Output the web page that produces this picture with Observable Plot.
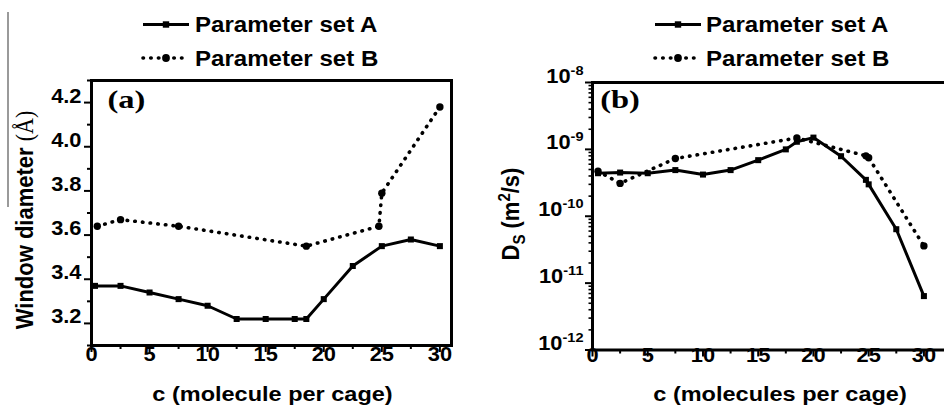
<!DOCTYPE html>
<html><head><meta charset="utf-8">
<script src="https://cdn.jsdelivr.net/npm/d3@7"></script>
<script src="https://cdn.jsdelivr.net/npm/@observablehq/plot@0.6"></script>
<style>
body{margin:0;background:#fff}
#wrap{position:relative;width:944px;height:407px;overflow:hidden;background:#fff}
#wrap svg{position:absolute;top:0}
#gray{position:absolute;left:7px;top:12px;width:1.5px;height:195px;background:#9a9a9a}
</style></head><body><div id="wrap"><div id="gray"></div></div>
<script>
// ---- data ----
const seriesNames = ["Parameter set A", "Parameter set B"];
const panelLabels = ["(a)", "(b)"];
const xTitles = ["c (molecule per cage)", "c (molecules per cage)"];
const xTicks = [0, 5, 10, 15, 20, 25, 30];
const xMinor = [2.5, 7.5, 12.5, 17.5, 22.5, 27.5];
const aYTicks = [3.2, 3.4, 3.6, 3.8, 4.0, 4.2];
const aYMinor = [3.1, 3.3, 3.5, 3.7, 3.9, 4.1, 4.3];
const bYTicks = [1e-12, 1e-11, 1e-10, 1e-9, 1e-8];

// panel (a): window diameter
const aA_x = [0.3, 2.5, 5, 7.5, 10, 12.5, 15, 17.5, 18.5, 20, 22.5, 25, 27.5, 30];
const aA_y = [3.37, 3.37, 3.34, 3.31, 3.28, 3.22, 3.22, 3.22, 3.22, 3.31, 3.46, 3.55, 3.58, 3.55];
const aB_x = [0.5, 2.5, 7.5, 18.5, 24.75, 25, 30];
const aB_y = [3.64, 3.67, 3.64, 3.55, 3.64, 3.79, 4.18];

// panel (b): self-diffusivity
const bA_x = [0.5, 2.5, 5, 7.5, 10, 12.5, 15, 17.5, 18.5, 20, 22.5, 24.75, 25, 27.5, 30];
const bA_y = [4.4e-10, 4.5e-10, 4.4e-10, 4.9e-10, 4.2e-10, 4.9e-10, 6.9e-10, 1.0e-9, 1.3e-9, 1.5e-9, 7.9e-10, 3.5e-10, 3.0e-10, 6.4e-11, 6.4e-12];
const bB_x = [0.5, 2.5, 7.5, 18.5, 24.75, 25, 30];
const bB_y = [4.7e-10, 3.1e-10, 7.3e-10, 1.48e-9, 8.0e-10, 7.5e-10, 3.6e-11];

// ---- helpers ----
const zip = (xs, ys) => xs.map((x, i) => ({x, y: ys[i]}));
const bYMinor = [];
for (let e = -12; e < -8; e++) for (let k = 2; k <= 9; k++) bYMinor.push(k * Math.pow(10, e));

const SX = 1.12;
const FONT = "'Liberation Sans', Arial, sans-serif";
const SERIF = "'Liberation Serif', 'Times New Roman', serif";
const baseStyle = {fontFamily: FONT, fontWeight: "bold", fontSize: "19.5px", color: "#000", background: "transparent", overflow: "visible"};

function seriesMarks(A, B) {
  return [
    Plot.line(B, {x: "x", y: "y", stroke: "#000", strokeWidth: 3.6, strokeDasharray: "0.5 7.2", strokeLinecap: "round"}),
    Plot.line(A, {x: "x", y: "y", stroke: "#000", strokeWidth: 3}),
    Plot.dot(B, {x: "x", y: "y", symbol: "circle", r: 3.7, fill: "#000"}),
    Plot.dot(A, {x: "x", y: "y", symbol: "square", r: 3.4, fill: "#000"})
  ];
}

const wrap = document.getElementById("wrap");

const left = Plot.plot({
  width: 470, height: 407,
  marginLeft: 91, marginRight: 19, marginTop: 80, marginBottom: 62,
  x: {domain: [0, 31]},
  y: {domain: [3.1, 4.3]},
  style: baseStyle,
  marks: [
    Plot.axisX({ticks: xMinor, tickSize: 4, strokeWidth: 2, tickFormat: () => "", label: null}),
    Plot.axisX({ticks: xTicks, tickSize: 7, tickPadding: 8, strokeWidth: 2, tickFormat: d => String(d), label: null}),
    Plot.axisY({ticks: aYMinor, tickSize: 4, strokeWidth: 2, tickFormat: () => "", label: null}),
    Plot.axisY({ticks: aYTicks, tickSize: 7, tickPadding: 3, strokeWidth: 2, tickFormat: d => d.toFixed(1), label: null}),
    Plot.frame({stroke: "#000", strokeWidth: 3}),
    ...seriesMarks(zip(aA_x, aA_y), zip(aB_x, aB_y))
  ]
});
left.style.left = "0px";
wrap.appendChild(left);

const right = Plot.plot({
  width: 480, height: 407,
  marginLeft: 122, marginRight: 4.5, marginTop: 82, marginBottom: 57.5,
  x: {domain: [0, 32]},
  y: {type: "log", domain: [1e-12, 1e-8]},
  style: baseStyle,
  marks: [
    Plot.axisX({ticks: xMinor, tickSize: 4, strokeWidth: 2, tickFormat: () => "", label: null}),
    Plot.axisX({ticks: xTicks, tickSize: 7, tickPadding: 5, strokeWidth: 2, tickFormat: d => String(d), label: null}),
    Plot.axisY({ticks: bYMinor, tickSize: 3.5, strokeWidth: 1.6, tickFormat: () => "", label: null}),
    Plot.axisY({ticks: bYTicks, tickSize: 7, tickPadding: 2, strokeWidth: 2, tickFormat: d => "10^" + Math.round(Math.log10(d)), label: null}),
    Plot.frame({stroke: "#000", strokeWidth: 3}),
    ...seriesMarks(zip(bA_x, bA_y), zip(bB_x, bB_y))
  ]
});
right.style.left = "470px";
wrap.appendChild(right);

// superscripts on the log tick labels
d3.select(right).selectAll("text").each(function() {
  const s = this.textContent;
  if (!s.includes("^")) return;
  const [base, exp] = s.split("^");
  const t = d3.select(this);
  t.text(null);
  t.append("tspan").text(base);
  t.append("tspan").style("font-size", "13px").attr("dy", "-8px").text(exp);
});

// horizontal stretch of the glyphs (the source is widened)
function stretch(el, s) {
  const x = +el.getAttribute("x") || 0, y = +el.getAttribute("y") || 0;
  el.removeAttribute("x"); el.removeAttribute("y");
  const t = el.getAttribute("transform") || "";
  el.setAttribute("transform", `${t} translate(${x},${y}) scale(${s},1)`);
}
[left, right].forEach(svg => svg.querySelectorAll("text").forEach(t => { if (t.textContent) stretch(t, SX); }));

// ---- overlay: legends, titles, panel labels ----
const ov = d3.select(wrap).append("svg").attr("width", 944).attr("height", 407).style("left", "0px");
const txt = (sel) => sel.append("text").style("font-family", FONT).style("font-weight", "bold").attr("fill", "#000");

const legends = [{x0: 143, x1: 189, tx: 195}, {x0: 655, x1: 701, tx: 706}];
const baselines = [32, 65.5];
legends.forEach(L => {
  seriesNames.forEach((name, i) => {
    const cy = baselines[i] - 7.5;
    const mid = (L.x0 + L.x1) / 2;
    if (i === 0) {
      ov.append("line").attr("x1", L.x0).attr("x2", L.x1).attr("y1", cy).attr("y2", cy).attr("stroke", "#000").attr("stroke-width", 3);
      ov.append("rect").attr("x", mid - 3.2).attr("y", cy - 3.2).attr("width", 6.4).attr("height", 6.4).attr("fill", "#000");
    } else {
      ov.append("line").attr("x1", L.x0).attr("x2", L.x1).attr("y1", cy).attr("y2", cy).attr("stroke", "#000")
        .attr("stroke-width", 3.6).attr("stroke-dasharray", "0.5 7.2").attr("stroke-linecap", "round");
      ov.append("circle").attr("cx", mid).attr("cy", cy).attr("r", 3.9).attr("fill", "#000");
    }
    txt(ov).attr("transform", `translate(${L.tx},${baselines[i]}) scale(${SX},1)`)
      .style("font-size", "21.5px").text(name);
  });
});

// x titles
[[272.5, xTitles[0]], [780, xTitles[1]]].forEach(([cx, s]) => {
  txt(ov).attr("transform", `translate(${cx},401) scale(${SX},1)`)
    .attr("text-anchor", "middle").style("font-size", "21px").text(s);
});

// y title (a)
const ya = txt(ov).attr("transform", `translate(33,220) scale(${SX},1) rotate(-90)`)
  .attr("text-anchor", "middle").style("font-size", "22px");
ya.append("tspan").text("Window diameter ");
ya.append("tspan").style("font-family", SERIF).style("font-weight", "normal").text("(Å)");

// y title (b)
const yb = txt(ov).attr("transform", `translate(519,214) scale(${SX},1) rotate(-90)`)
  .attr("text-anchor", "middle").style("font-size", "22px");
yb.append("tspan").text("D");
yb.append("tspan").style("font-size", "15px").attr("dy", "5px").text("S");
yb.append("tspan").attr("dy", "-5px").text(" (m");
yb.append("tspan").style("font-size", "15px").attr("dy", "-8px").text("2");
yb.append("tspan").attr("dy", "8px").text("/s)");

// panel labels
[[126.5, 108, panelLabels[0]], [620, 108, panelLabels[1]]].forEach(([cx, by, s]) => {
  ov.append("text").attr("transform", `translate(${cx},${by}) scale(1.25,1)`)
    .attr("text-anchor", "middle").style("font-family", SERIF).attr("fill", "#000")
    .style("font-weight", "bold").style("font-size", "26px").text(s);
});
</script></body></html>
